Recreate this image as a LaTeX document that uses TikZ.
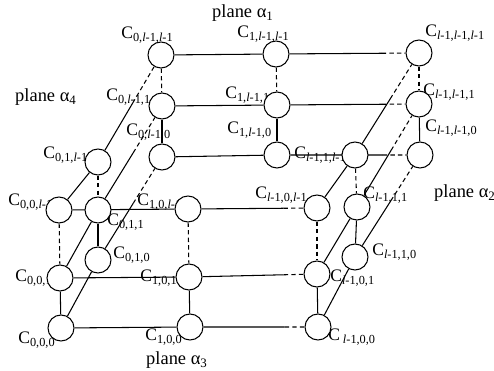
\documentclass[tikz,border=0pt]{standalone}
\usepackage{fontspec}
\setmainfont{Liberation Serif}
\usetikzlibrary{calc,backgrounds}
\newcommand{\Lit}{\textit{l}}
\newcommand{\Cs}[1]{C\textsubscript{#1}}
% solid link that turns dashed near its far end
\newcommand{\dashend}[3]{%
  \draw[edge] (#1) -- ($(#1)!#3!(#2)$);
  \draw[edge,dash pattern=on 2.5pt off 1.8pt] ($(#1)!#3!(#2)$) -- (#2);}

\begin{document}
\begin{tikzpicture}[x=0.02cm,y=-0.02cm,
  cell/.style={circle,draw,fill=white,minimum size=0.52cm,inner sep=0pt,line width=0.6pt},
  lab/.style={anchor=west,inner sep=0pt,font=\fontsize{10}{12}\selectfont},
  plane/.style={inner sep=0pt,font=\fontsize{10.5}{12}\selectfont},
  edge/.style={line width=0.6pt},
  zdash/.style={edge,dash pattern=on 2.5pt off 1.8pt}]
  \useasboundingbox (0,0) rectangle (494,371);
  % Plane names
  \node[plane] (pa1) at (243,13) {plane α\textsubscript{1}};
  \node[plane] (pa4) at (46,97) {plane α\textsubscript{4}};
  \node[plane] (pa2) at (465,193) {plane α\textsubscript{2}};
  \node[plane] (pa3) at (177,360) {plane α\textsubscript{3}};
  % Cell labels
  \node[lab] (t0LL) at (121,35) {\Cs{0,\Lit-1,\Lit-1}};
  \node[lab] (t1LL) at (237,34) {\Cs{1,\Lit-1,\Lit-1}};
  \node[lab] (tLLL) at (425,33) {\Cs{\Lit-1,\Lit-1,\Lit-1}};
  \node[lab] (t0L1) at (106,97) {\Cs{0,\Lit-1,1}};
  \node[lab] (t1L1) at (225,95) {\Cs{1,\Lit-1,1}};
  \node[lab] (tLL1) at (423,92) {\Cs{\Lit-1,\Lit-1,1}};
  \node[lab] (t0L0) at (126,132) {\Cs{0,\Lit-1,0}};
  \node[lab] (t1L0) at (227,130) {\Cs{1,\Lit-1,0}};
  \node[lab] (tLL0) at (425,128) {\Cs{\Lit-1,\Lit-1,0}};
  \node[lab] (tL1L) at (294,155) {\Cs{\Lit-1,1,\Lit-1}};
  \node[lab] (t01L) at (43,155) {\Cs{0,1,\Lit-1}};
  \node[lab] (t00L) at (8,202) {\Cs{0,0,\Lit-1}};
  \node[lab] (t10L) at (137,202) {\Cs{1,0,\Lit-1}};
  \node[lab] (t011) at (107,222) {\Cs{0,1,1}};
  \node[lab] (t010) at (113,255) {\Cs{0,1,0}};
  \node[lab] (t001) at (15,278) {\Cs{0,0,1}};
  \node[lab] (t101) at (140,278) {\Cs{1,0,1}};
  \node[lab] (t000) at (18,340) {\Cs{0,0,0}};
  \node[lab] (t100) at (145,337) {\Cs{1,0,0}};
  \node[lab] (tL0L) at (255,195) {\Cs{\Lit-1,0,\Lit-1}};
  \node[lab] (tL11) at (363,195) {\Cs{\Lit-1,1,1}};
  \node[lab] (tL10) at (372,252) {\Cs{\Lit-1,1,0}};
  \node[lab] (tL01) at (330,278) {\Cs{\Lit-1,0,1}};
  \node[lab] (tL00) at (328,337) {C\,\textsubscript{\Lit-1,0,0}};
  % Cells, back layer (y = l-1)
  \node[cell] (c0LL) at (161,55) {};
  \node[cell] (c1LL) at (276,54) {};
  \node[cell] (cLLL) at (419,53) {};
  \node[cell] (c0L1) at (162,106) {};
  \node[cell] (c1L1) at (277,105) {};
  \node[cell] (cLL1) at (419,104) {};
  \node[cell] (c0L0) at (162,157) {};
  \node[cell] (c1L0) at (277,155) {};
  \node[cell] (cLL0) at (420,155) {};
  % Cells, layer y = 1
  \node[cell] (c01L) at (98,162) {};
  \node[cell] (c011) at (98,210) {};
  \node[cell] (c010) at (98,260) {};
  \node[cell] (cL1L) at (355,155) {};
  \node[cell] (cL11) at (357,207) {};
  \node[cell] (cL10) at (355,257) {};
  % Cells, front layer (y = 0)
  \node[cell] (c00L) at (59,210) {};
  \node[cell] (c10L) at (188,209) {};
  \node[cell] (cL0L) at (317,208) {};
  \node[cell] (c001) at (60,278) {};
  \node[cell] (c101) at (189,277) {};
  \node[cell] (cL01) at (317,274) {};
  \node[cell] (c000) at (61,328) {};
  \node[cell] (c100) at (190,327) {};
  \node[cell] (cL00) at (318,327) {};
  \begin{pgfonlayer}{background}
    % Columns (z direction)
    \foreach \p in {0L,1L,LL,00,10,L0,01,L1} {
      \draw[zdash] (c\p L) -- (c\p 1);
      \draw[edge] (c\p 1) -- (c\p 0);
    }
    % Rows (x direction)
    \foreach \q in {LL,L1,L0,0L,01,00} {
      \draw[edge] (c0\q) -- (c1\q);
      \dashend{c1\q}{cL\q}{0.74}
    }
    % Depth (y direction)
    \foreach \xa in {0,L} {
      \foreach \za in {L,1,0} {
        \draw[edge] (c\xa0\za) -- (c\xa1\za);
        \dashend{c\xa1\za}{c\xa L\za}{0.55}
      }
    }
  \end{pgfonlayer}
\end{tikzpicture}
\end{document}
